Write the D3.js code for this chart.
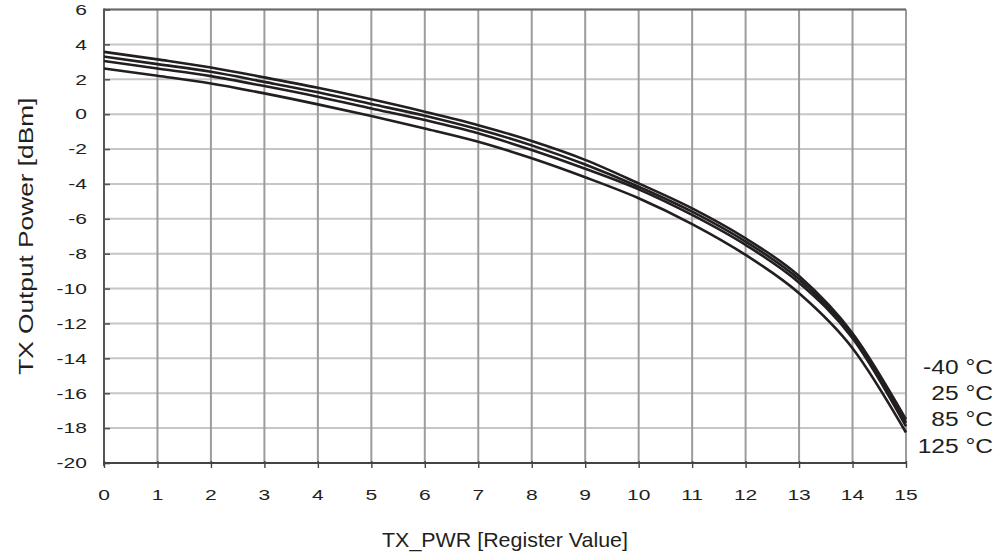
<!DOCTYPE html>
<html><head><meta charset="utf-8">
<script src="https://cdn.jsdelivr.net/npm/d3@7/dist/d3.min.js"></script>
<style>
html,body{margin:0;padding:0;background:#fff;}
svg{display:block;font-family:"Liberation Sans",Arial,sans-serif;}
</style></head>
<body>
<svg id="chart" width="1008" height="555"></svg>
<script>
const registerValues = [0,1,2,3,4,5,6,7,8,9,10,11,12,13,14,15];
const seriesNames = ["-40 °C","25 °C","85 °C","125 °C"];
const powerM40 = [3.57,3.14,2.68,2.11,1.51,0.85,0.14,-0.63,-1.54,-2.62,-3.97,-5.40,-7.12,-9.28,-12.56,-17.50];
const power25  = [3.30,2.87,2.43,1.85,1.25,0.58,-0.09,-0.87,-1.79,-2.89,-4.16,-5.59,-7.31,-9.47,-12.71,-17.70];
const power85  = [3.05,2.62,2.18,1.61,1.00,0.33,-0.34,-1.10,-2.06,-3.13,-4.31,-5.78,-7.50,-9.66,-12.84,-17.90];
const power125 = [2.62,2.20,1.76,1.19,0.56,-0.11,-0.82,-1.58,-2.53,-3.62,-4.82,-6.30,-8.07,-10.27,-13.42,-18.25];
const yTicks = [6,4,2,0,-2,-4,-6,-8,-10,-12,-14,-16,-18,-20];
const xTicks = [0,1,2,3,4,5,6,7,8,9,10,11,12,13,14,15];
const xTitle = "TX_PWR [Register Value]";
const yTitle = "TX Output Power [dBm]";

const series = [powerM40, power25, power85, power125];

const svg = d3.select("#chart");
const L = 104, R = 906, T = 9.5, B = 463;
const x = d3.scaleLinear().domain([0,15]).range([L,R]);
const y = d3.scaleLinear().domain([-20,6]).range([B,T]);

// horizontal grid
svg.append("g").selectAll("line").data(yTicks).join("line")
  .attr("x1",L).attr("x2",R).attr("y1",d=>y(d)).attr("y2",d=>y(d))
  .attr("stroke","#c6c6c6").attr("stroke-width",2);
// vertical grid
svg.append("g").selectAll("line").data(xTicks.slice(1)).join("line")
  .attr("x1",d=>x(d)).attr("x2",d=>x(d)).attr("y1",T).attr("y2",B)
  .attr("stroke","#9c9ca0").attr("stroke-width",2);

// top border
svg.append("line").attr("x1",L).attr("x2",R).attr("y1",T).attr("y2",T)
  .attr("stroke","#6a6a6a").attr("stroke-width",2);

// Y axis (ticks inward)
const yAxis = d3.axisRight(y).tickValues(yTicks).tickSize(6).tickFormat("");
const gy = svg.append("g").attr("transform",`translate(${L},0)`).call(yAxis);
gy.select(".domain").remove();
gy.selectAll(".tick line").attr("stroke","#555").attr("stroke-width",1.6);
svg.append("line").attr("x1",L).attr("x2",L).attr("y1",T-1).attr("y2",B+3)
  .attr("stroke","#555").attr("stroke-width",2);

// X axis (ticks outward)
const xAxis = d3.axisBottom(x).tickValues(xTicks).tickSize(5).tickFormat("");
const gx = svg.append("g").attr("transform",`translate(0,${B})`).call(xAxis);
gx.select(".domain").remove();
gx.selectAll(".tick line").attr("stroke","#444").attr("stroke-width",1.4).attr("y1",-2);
svg.append("line").attr("x1",L-1).attr("x2",R+1).attr("y1",B).attr("y2",B)
  .attr("stroke","#444").attr("stroke-width",2);

// tick labels (wide font look)
const tickFs = 14.5, tickSx = 1.45;
svg.append("g").selectAll("text").data(yTicks).join("text")
  .attr("transform",d=>`translate(87,${y(d)+5.3}) scale(${tickSx},1)`)
  .attr("text-anchor","end").attr("font-size",tickFs).attr("fill","#231f20")
  .text(d=>d);
svg.append("g").selectAll("text").data(xTicks).join("text")
  .attr("transform",d=>`translate(${x(d)},500) scale(${tickSx},1)`)
  .attr("text-anchor","middle").attr("font-size",tickFs).attr("fill","#231f20")
  .text(d=>d);

// curves
const line = d3.line().x((d,i)=>x(registerValues[i])).y(d=>y(d)).curve(d3.curveMonotoneX);
svg.append("g").selectAll("path").data(series).join("path")
  .attr("d",d=>line(d)).attr("fill","none").attr("stroke","#231f20").attr("stroke-width",2.6);

// legend labels
const legY = [374,400,426,453];
svg.append("g").selectAll("text").data(seriesNames).join("text")
  .attr("transform",(d,i)=>`translate(993,${legY[i]}) scale(1.17,1)`)
  .attr("text-anchor","end").attr("font-size",21).attr("fill","#231f20")
  .text(d=>d);

// axis titles
svg.append("text").attr("transform",`translate(${(L+R)/2},547) scale(1.02,1)`)
  .attr("text-anchor","middle").attr("font-size",21).attr("fill","#231f20").text(xTitle);
svg.append("text").attr("transform",`translate(33,${(T+B)/2}) rotate(-90) scale(1.25,1)`)
  .attr("text-anchor","middle").attr("font-size",21).attr("fill","#231f20").text(yTitle);
</script>
</body></html>
